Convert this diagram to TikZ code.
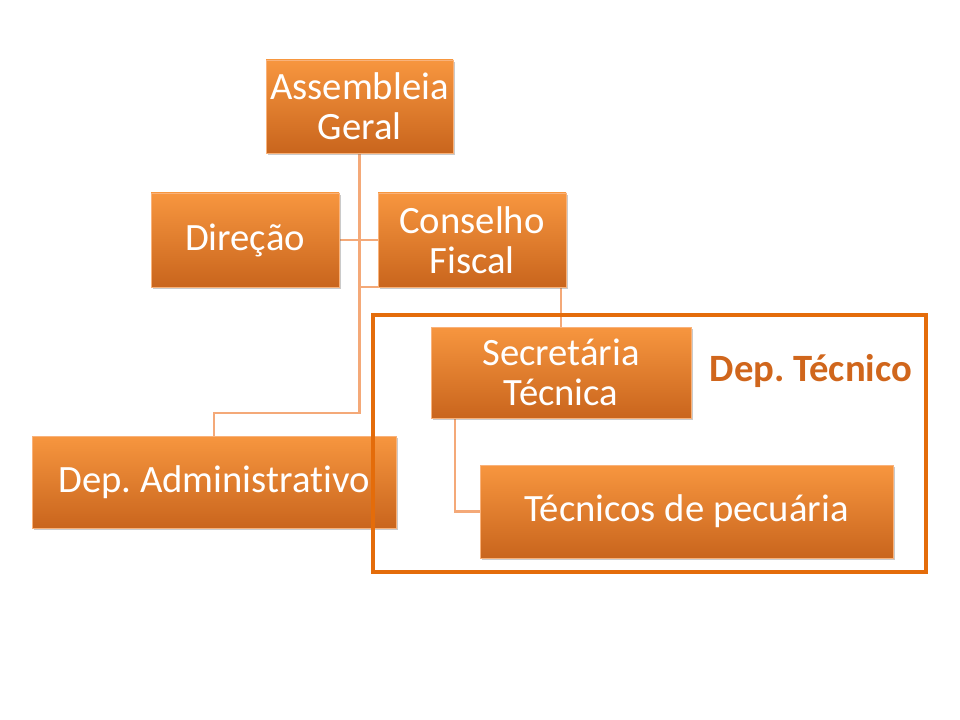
\documentclass[tikz,border=0pt]{standalone}
\usepackage{fontspec}
\setmainfont{Carlito}[Ligatures=NoCommon]
\usetikzlibrary{shadows,calc}
\pgfdeclarelayer{background}
\pgfsetlayers{background,main}
\definecolor{boxtop}{HTML}{F7963F}
\definecolor{boxbot}{HTML}{C9651D}
\definecolor{boxedge}{HTML}{F9B27A}
\definecolor{linkc}{HTML}{F4A978}
\definecolor{framec}{HTML}{E46C0A}
\definecolor{labelc}{HTML}{D0661C}
\tikzset{
  orgbox/.style={rectangle, draw=boxedge, line width=0.6pt, top color=boxtop, bottom color=boxbot,
    text=white, align=center, inner sep=0pt, font=\frenchspacing\fontsize{29}{30}\selectfont,
    drop shadow={shadow xshift=1.5pt, shadow yshift=-1.5pt, opacity=0.35, fill=black!60}},
  link/.style={draw=linkc, line width=1.6pt},
  deptframe/.style={draw=framec, line width=2.3pt},
  deptlabel/.style={text=labelc, font=\frenchspacing\bfseries\fontsize{29}{32}\selectfont}
}
\begin{document}
\begin{tikzpicture}[x=0.75pt,y=-0.75pt]
\useasboundingbox (0,0) rectangle (960,720);
\node[orgbox, minimum width=140.25pt, minimum height=69.75pt] (ag) at (359.5,106.5) {Assembleia\\Geral};
\node[orgbox, minimum width=141pt, minimum height=70.5pt] (dir) at (245,240) {Direção};
\node[orgbox, minimum width=141pt, minimum height=70.5pt] (cf) at (472,240) {Conselho\\Fiscal};
\node[orgbox, minimum width=195pt, minimum height=68.25pt] (st) at (561,372.5) {Secretária\\Técnica};
\node[orgbox, minimum width=273pt, minimum height=69pt] (da) at (214,482) {Dep. Administrativo};
\node[orgbox, minimum width=309.75pt, minimum height=69.75pt] (tp) at (686.5,511.5) {Técnicos de pecuária};
\coordinate (j1) at (359.5,413);
\coordinate (j2) at (359.5,287);
\coordinate (j3) at ($(st.south west)+(24,0)$);
\begin{pgfonlayer}{background}
\draw[link] (ag.south) -- (j1) -| (da.north);
\draw[link] (dir.east) -- (cf.west);
\draw[link] (j2) -| (st.north);
\draw[link] (j3) |- (tp.west);
\end{pgfonlayer}
\draw[deptframe] (373,315) rectangle (926,572);
\node[deptlabel] (lbl) at (811,371) {Dep. Técnico};
\end{tikzpicture}
\end{document}
